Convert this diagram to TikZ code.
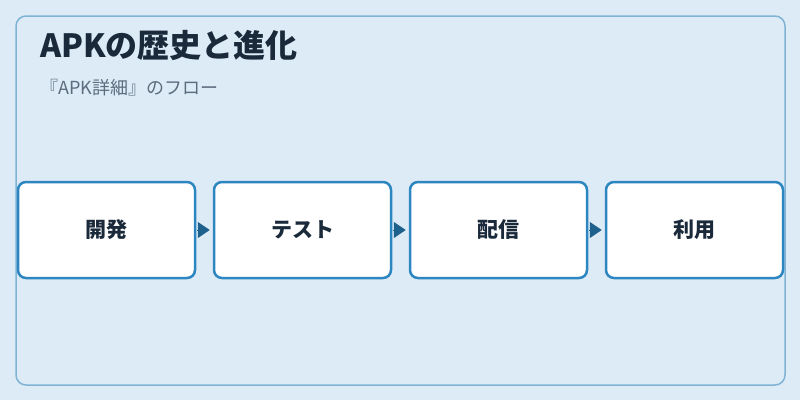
\documentclass[tikz,border=0pt]{standalone}
\usepackage{fontspec}
\setmainfont{Noto Sans CJK JP}
\usetikzlibrary{arrows.meta}
\definecolor{bgc}{HTML}{DCEBF6}
\definecolor{framec}{HTML}{7FB3D5}
\definecolor{boxc}{HTML}{2E86C1}
\definecolor{arrc}{HTML}{1F618D}
\definecolor{titlec}{HTML}{1B2A3A}
\definecolor{subc}{HTML}{5D6D7E}
\tikzset{
  stepbox/.style={draw=boxc, line width=2.5pt, fill=white, rounded corners=8pt,
    minimum width=177pt, minimum height=96pt, inner sep=0pt,
    font=\fontsize{21}{25}\selectfont\bfseries, text=titlec},
  flow/.style={draw=arrc, fill=arrc, line width=1pt,
    -{Triangle[length=12pt,width=16pt]}, shorten <=1pt, shorten >=3pt},
  txt/.style={inner sep=0pt, anchor=base west}
}
\begin{document}
\begin{tikzpicture}[x=1pt,y=-1pt]
\useasboundingbox (0,0) rectangle (800,400);
\fill[bgc] (0,0) rectangle (800,400);
\draw[framec, line width=1.5pt, rounded corners=10pt] (16,16) rectangle (785,385);
\node[txt, text=titlec, font=\fontsize{32}{38}\selectfont\bfseries] (title) at (40,57) {APKの歴史と進化};
\node[txt, text=subc, font=\fontsize{18}{22}\selectfont] (sub) at (40,94) {『APK詳細』のフロー};
\node[stepbox] (b1) at (106.5,230) {開発};
\node[stepbox] (b2) at (302.5,230) {テスト};
\node[stepbox] (b3) at (498.5,230) {配信};
\node[stepbox] (b4) at (694.5,230) {利用};
\draw[flow] (b1.east) -- (b2.west);
\draw[flow] (b2.east) -- (b3.west);
\draw[flow] (b3.east) -- (b4.west);
\end{tikzpicture}
\end{document}
